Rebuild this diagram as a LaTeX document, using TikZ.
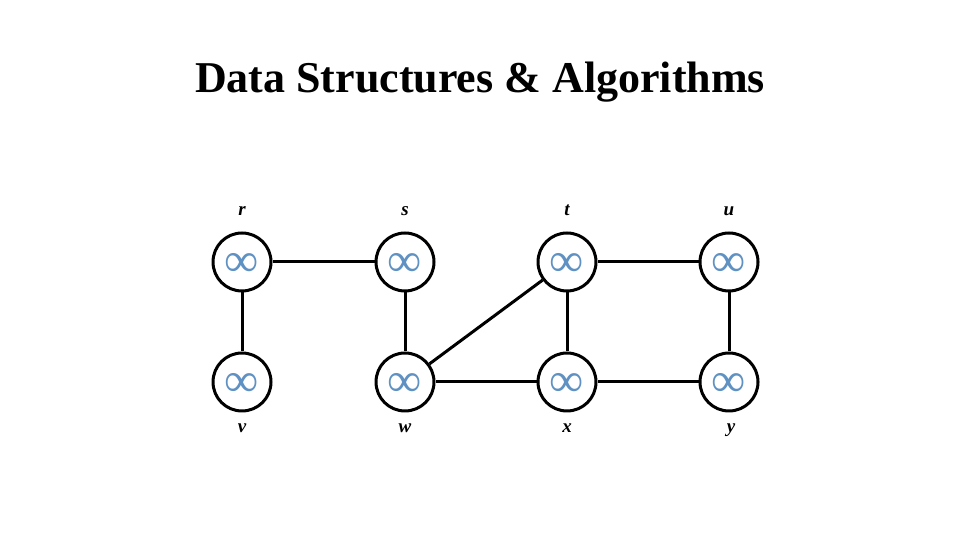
\documentclass[tikz,border=0pt]{standalone}
\usepackage{fontspec}
\setmainfont{Liberation Serif}
\usepackage{tikz}
\usetikzlibrary{positioning}
\definecolor{infblue}{RGB}{95,145,195}
\newcommand{\infsym}{\raisebox{-3pt}[\height][\depth]{∞}}
\tikzstyle{vertex} = [circle, draw=black, line width=3pt, minimum size=58pt, inner sep=0pt, text=infblue, font=\fontsize{48}{50}\selectfont]
\tikzstyle{vlabel} = [font=\bfseries\itshape\fontsize{19}{22}\selectfont]
\tikzstyle{edge} = [line width=3pt]

\begin{document}
\begin{tikzpicture}[x=1pt,y=1pt]
        \useasboundingbox (0,0) rectangle (960,540);
        \node(head) at (480,458) [font=\bfseries\fontsize{44}{52}\selectfont] {Data Structures \& Algorithms};
        \node(r) [vertex] at (242,278) {\infsym};
        \node(s) [vertex] at (405,278) {\infsym};
        \node(t) [vertex] at (567,278) {\infsym};
        \node(u) [vertex] at (729,278) {\infsym};
        \node(v) [vertex] at (242,158) {\infsym};
        \node(w) [vertex] at (405,158) {\infsym};
        \node(x) [vertex] at (567,158) {\infsym};
        \node(y) [vertex] at (729,158) {\infsym};
        \node(lr) [vlabel, above=12pt of r] {r};
        \node(ls) [vlabel, above=12pt of s] {s};
        \node(lt) [vlabel, above=12pt of t] {t};
        \node(lu) [vlabel, above=12pt of u] {u};
        \node(lv) [vlabel, below=8pt of v] {v};
        \node(lw) [vlabel, below=8pt of w] {w};
        \node(lx) [vlabel, below=8pt of x] {x};
        \node(ly) [vlabel, below=8pt of y, xshift=2pt] {y};
        \draw [edge] (r)--(s);
        \draw [edge] (r)--(v);
        \draw [edge] (s)--(w);
        \draw [edge] (w)--(t);
        \draw [edge] (t)--(u);
        \draw [edge] (t)--(x);
        \draw [edge] (u)--(y);
        \draw [edge] (w)--(x);
        \draw [edge] (x)--(y);
    \end{tikzpicture}
\end{document}
